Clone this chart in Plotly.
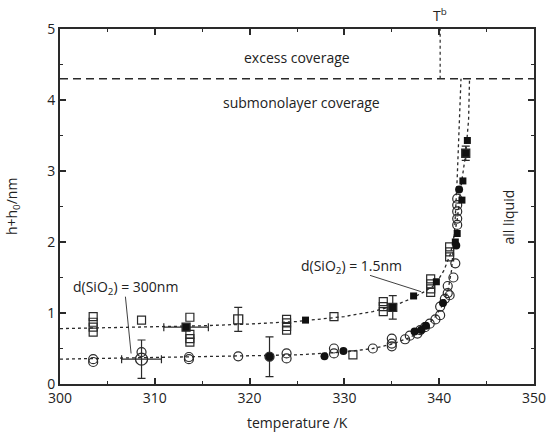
import plotly.graph_objects as go

# --- measured points (temperature in K, h+h0 in nm) ---
open_sq_T = [303.5, 303.5, 303.5, 303.5, 308.6, 313.7, 313.7, 313.7, 313.7,
             323.9, 323.9, 323.9, 323.9, 328.9, 330.9, 334.1, 334.1, 334.1,
             339.1, 339.1, 339.1, 339.1, 341.1, 341.1, 341.1]
open_sq_h = [0.95, 0.87, 0.80, 0.73, 0.90, 0.94, 0.70, 0.64, 0.59,
             0.91, 0.86, 0.81, 0.76, 0.95, 0.41, 1.16, 1.09, 1.02,
             1.48, 1.41, 1.34, 1.29, 1.93, 1.86, 1.79]

filled_sq_T = [325.9, 337.3, 339.7, 341.7, 341.9, 342.4, 342.5, 342.97]
filled_sq_h = [0.90, 1.24, 1.44, 2.00, 2.12, 2.59, 2.86, 3.43]

open_ci_T = [303.5, 303.5, 308.6, 313.6, 313.6, 318.8, 323.9, 323.9, 328.9, 328.9,
             333.0, 335.0, 335.0, 335.0, 336.4, 336.9, 337.7, 338.0, 338.5, 339.0,
             339.6, 340.1, 340.1, 340.6, 340.9, 340.9, 341.1, 341.9, 341.9, 341.9,
             341.9, 341.9, 341.7, 341.5]
open_ci_h = [0.35, 0.31, 0.45, 0.38, 0.35, 0.39, 0.43, 0.36, 0.50, 0.43,
             0.50, 0.64, 0.57, 0.53, 0.63, 0.68, 0.71, 0.76, 0.80, 0.85,
             0.91, 0.97, 1.09, 1.20, 1.28, 1.38, 1.25, 2.61, 2.52, 2.43,
             2.33, 2.24, 1.70, 1.50]

filled_ci_T = [327.9, 329.9, 337.4, 338.1, 338.6, 340.4, 341.8, 342.1]
filled_ci_h = [0.39, 0.465, 0.74, 0.76, 0.82, 1.14, 1.95, 2.74]

# points carrying error bars: (T, h, dT, dh, symbol)
err_T = [308.6, 313.3, 318.8, 322.1, 335.1, 342.8]
err_h = [0.35, 0.80, 0.91, 0.385, 1.08, 3.25]
err_dT = [2.1, 2.35, 0.0, 0.0, 0.0, 0.0]
err_dh = [0.27, 0.0, 0.17, 0.28, 0.165, 0.10]
err_sym = ["circle-open", "square", "square-open", "circle", "square", "square"]
err_size = [12, 8, 9, 9, 8, 8]

# dotted guide curves
thin_T = [300, 305, 310, 315, 320, 325, 330, 333, 335, 337, 338.3, 339.6,
          340.5, 341.2, 341.9, 342.3, 342.8, 343.1, 343.2]
thin_h = [0.78, 0.79, 0.80, 0.82, 0.845, 0.88, 0.95, 1.02, 1.09, 1.20, 1.29, 1.40,
          1.60, 1.84, 2.31, 2.78, 3.25, 3.72, 4.30]
thick_T = [300, 310, 320, 325, 330, 333, 335, 337, 338.5, 339.5, 340.3, 340.9,
           341.3, 341.6, 341.9, 342.1, 342.3]
thick_h = [0.35, 0.37, 0.39, 0.41, 0.45, 0.50, 0.56, 0.66, 0.80, 0.93, 1.10, 1.30,
           1.60, 2.10, 2.90, 3.50, 4.30]

coverage_h = 4.3      # monolayer boundary
T_bulk = 340.1        # bulk transition temperature

x_ticks = [300, 310, 320, 330, 340, 350]
y_ticks = [0, 1, 2, 3, 4, 5]

INK = "#2a2a2a"
FONT = "Open Sans"

fig = go.Figure()

fig.add_trace(go.Scatter(x=thin_T, y=thin_h, mode="lines",
                         line=dict(color=INK, width=1.3, dash="dot")))
fig.add_trace(go.Scatter(x=thick_T, y=thick_h, mode="lines",
                         line=dict(color=INK, width=1.3, dash="dot")))

fig.add_trace(go.Scatter(x=[300, 350], y=[coverage_h, coverage_h], mode="lines",
                         line=dict(color=INK, width=1.6, dash="8px,5px")))
fig.add_trace(go.Scatter(x=[T_bulk, T_bulk], y=[coverage_h, 5], mode="lines",
                         line=dict(color=INK, width=1.2, dash="dot")))

fig.add_trace(go.Scatter(x=open_sq_T, y=open_sq_h, mode="markers",
                         marker=dict(symbol="square-open", size=8, color=INK,
                                     line=dict(width=1.2, color=INK))))
fig.add_trace(go.Scatter(x=open_ci_T, y=open_ci_h, mode="markers",
                         marker=dict(symbol="circle-open", size=9, color=INK,
                                     line=dict(width=1.2, color=INK))))
fig.add_trace(go.Scatter(x=filled_sq_T, y=filled_sq_h, mode="markers",
                         marker=dict(symbol="square", size=7, color="#111")))
fig.add_trace(go.Scatter(x=filled_ci_T, y=filled_ci_h, mode="markers",
                         marker=dict(symbol="circle", size=8, color="#111")))

for T, h, dT, dh, sym, sz in zip(err_T, err_h, err_dT, err_dh, err_sym, err_size):
    fig.add_trace(go.Scatter(
        x=[T], y=[h], mode="markers",
        marker=dict(symbol=sym, size=sz, color="#111" if "open" not in sym else INK,
                    line=dict(width=1.3, color=INK)),
        error_x=dict(type="constant", value=dT, visible=dT > 0, color=INK,
                     thickness=1.2, width=4),
        error_y=dict(type="constant", value=dh, visible=dh > 0, color=INK,
                     thickness=1.2, width=4),
    ))

# leader lines for the film labels
fig.add_trace(go.Scatter(x=[332.7, 338.1], y=[1.53, 1.30], mode="lines",
                         line=dict(color=INK, width=0.9)))
fig.add_trace(go.Scatter(x=[306.9, 307.5], y=[1.23, 0.43], mode="lines",
                         line=dict(color=INK, width=0.9)))

txt = dict(family=FONT, size=14, color="#222")
annotations = [
    dict(x=325.0, y=4.6, text="excess coverage", showarrow=False, font=txt),
    dict(x=325.5, y=3.96, text="submonolayer coverage", showarrow=False, font=txt),
    dict(x=347.3, y=2.35, text="all liquid", textangle=-90, showarrow=False, font=txt),
    dict(x=330.7, y=1.66, text="d(SiO<sub>2</sub>) = 1.5nm", showarrow=False, font=txt),
    dict(x=306.9, y=1.36, text="d(SiO<sub>2</sub>) = 300nm", showarrow=False, font=txt),
    dict(x=T_bulk, y=5, yshift=14, text="T<sup>b</sup>", showarrow=False, font=txt),
    dict(xref="paper", x=0.5, yref="paper", y=-0.076, yanchor="top",
         text="temperature /K", showarrow=False, font=dict(family=FONT, size=14, color="#222")),
    dict(xref="paper", x=-0.1, xanchor="center", yref="paper", y=0.5,
         text="h+h<sub>0</sub>/nm", textangle=-90, showarrow=False,
         font=dict(family=FONT, size=14, color="#222")),
]

axis_common = dict(showline=True, linecolor=INK, linewidth=2, mirror="ticks",
                   ticks="inside", tickcolor=INK, tickwidth=1.5, ticklen=6,
                   showgrid=False, zeroline=False, automargin=False,
                   tickfont=dict(family=FONT, size=14, color="#222"))

fig.update_layout(
    template="none",
    width=552, height=439,
    margin=dict(l=60, r=18, t=29, b=55),
    paper_bgcolor="white", plot_bgcolor="white",
    showlegend=False,
    annotations=annotations,
    xaxis=dict(range=[300, 350], tickvals=x_ticks,
               ticktext=[str(v) for v in x_ticks],
               minor=dict(ticks="inside", dtick=5, ticklen=3, tickcolor=INK, tickwidth=1.3),
               **axis_common),
    yaxis=dict(range=[0, 5], tickvals=y_ticks,
               ticktext=[str(v) for v in y_ticks],
               minor=dict(ticks="inside", dtick=0.5, ticklen=3, tickcolor=INK, tickwidth=1.3),
               **axis_common),
)

fig.write_html("out.html")
